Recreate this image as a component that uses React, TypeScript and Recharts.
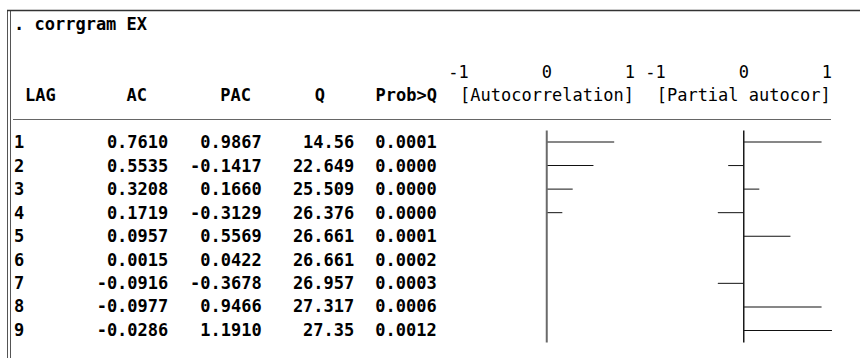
import React from "react";
import { BarChart, Bar, XAxis, YAxis, ReferenceLine } from "recharts";

const lags = [1, 2, 3, 4, 5, 6, 7, 8, 9];
const ac = [0.761, 0.5535, 0.3208, 0.1719, 0.0957, 0.0015, -0.0916, -0.0977, -0.0286];
const pac = [0.9867, -0.1417, 0.166, -0.3129, 0.5569, 0.0422, -0.3678, 0.9466, 1.191];
const qStat = [14.56, 22.649, 25.509, 26.376, 26.661, 26.661, 26.957, 27.317, 27.35];
const probQ = [0.0001, 0, 0, 0, 0.0001, 0.0002, 0.0003, 0.0006, 0.0012];
const scaleTicks = [-1, 0, 1];

const MONO = '"DejaVu Sans Mono", "Liberation Mono", monospace';
const FS = 17;
const UNIT = 83; // px per 1.0 of correlation
const PLOT_TOP = 130.5;
const PLOT_BOTTOM = 342.5;
const ROW0 = 148.3;
const ROW_STEP = 23.44;

// text-mode bar: eight cells per unit, truncated, capped at the frame
const cells = (v: number) => {
  const n = Math.min(8, Math.floor(Math.abs(v) * 8));
  return n === 0 ? 0 : (Math.sign(v) * (n + 0.5)) / 8;
};

const rows = lags.map((lag, i) => ({
  lag,
  acBar: cells(ac[i]),
  pacBar: cells(pac[i]),
}));

const ScaleTick = (props: any) => {
  const { x, payload } = props;
  const v = payload.value;
  const anchor = v < 0 ? "end" : "middle";
  const dx = v < 0 ? 5 : 0;
  return (
    <text x={x + dx} y={28} textAnchor={anchor} fontFamily={MONO} fontSize={FS} fill="#000">
      {String(v)}
    </text>
  );
};

function CorrBars({ zero, dataKey, axisColor, axisWidth }: any) {
  const top = 50;
  const axisH = 40;
  const half = UNIT * 1.25;
  const left = zero - half - 14;
  const width = half * 2 + 28;
  const height = 300;
  return (
    <div style={{ position: "absolute", left, top }}>
      <BarChart
        width={width}
        height={height}
        data={rows}
        layout="vertical"
        margin={{
          top: PLOT_TOP - top - axisH,
          bottom: top + height - PLOT_BOTTOM,
          left: 14,
          right: 14,
        }}
        barCategoryGap={0}
      >
        <XAxis
          type="number"
          orientation="top"
          domain={[-1.25, 1.25]}
          ticks={scaleTicks}
          interval={0}
          height={axisH}
          axisLine={false}
          tickLine={false}
          tick={<ScaleTick />}
        />
        <YAxis type="category" dataKey="lag" hide />
        <ReferenceLine x={0} stroke={axisColor} strokeWidth={axisWidth} ifOverflow="visible" />
        <Bar dataKey={dataKey} barSize={1} fill="#111" isAnimationActive={false} />
      </BarChart>
    </div>
  );
}

export default function App() {
  const numCols = [
    { right: 168.3, vals: ac.map((v) => v.toFixed(4)) },
    { right: 261.7, vals: pac.map((v) => v.toFixed(4)) },
    { right: 354.3, vals: qStat.map((v) => String(v)) },
    { right: 436.7, vals: probQ.map((v) => v.toFixed(4)) },
  ];
  return (
    <div style={{ position: "absolute", left: 0, top: 0, width: 860, height: 358, background: "#fff", overflow: "hidden" }}>
      <svg width={860} height={358} style={{ position: "absolute", left: 0, top: 0 }}>
        {/* console frame */}
        <line x1={7.5} y1={10} x2={7.5} y2={358} stroke="#555" strokeWidth={1} />
        <line x1={10.5} y1={10} x2={10.5} y2={358} stroke="#555" strokeWidth={1} />
        <line x1={7} y1={10.5} x2={860} y2={10.5} stroke="#333" strokeWidth={1.5} />

        <g fontFamily={MONO} fontSize={FS} fill="#000">
          <text x={14} y={30} fontWeight="bold">. corrgram EX</text>

          <g fontWeight="bold">
            <text x={25} y={101}>LAG</text>
            <text x={147} y={101} textAnchor="end">AC</text>
            <text x={251} y={101} textAnchor="end">PAC</text>
            <text x={325} y={101} textAnchor="end">Q</text>
            <text x={437} y={101} textAnchor="end">Prob&gt;Q</text>
          </g>
          <text x={460} y={101}>[Autocorrelation]</text>
          <text x={656.7} y={101}>[Partial autocor]</text>

          <g fontWeight="bold">
            {lags.map((lag, i) => (
              <text key={`lag-${lag}`} x={14} y={ROW0 + i * ROW_STEP}>{lag}</text>
            ))}
            {numCols.map((col, c) =>
              col.vals.map((s, i) => (
                <text key={`c${c}-${i}`} x={col.right} y={ROW0 + i * ROW_STEP} textAnchor="end">
                  {s}
                </text>
              ))
            )}
          </g>
        </g>
        <line x1={13} y1={119.5} x2={831} y2={119.5} stroke="#666" strokeWidth={1} />
      </svg>

      <CorrBars zero={546.7} dataKey="acBar" axisColor="#6a6a6a" axisWidth={2} />
      <CorrBars zero={743.3} dataKey="pacBar" axisColor="#1a1a1a" axisWidth={1.5} />
    </div>
  );
}
